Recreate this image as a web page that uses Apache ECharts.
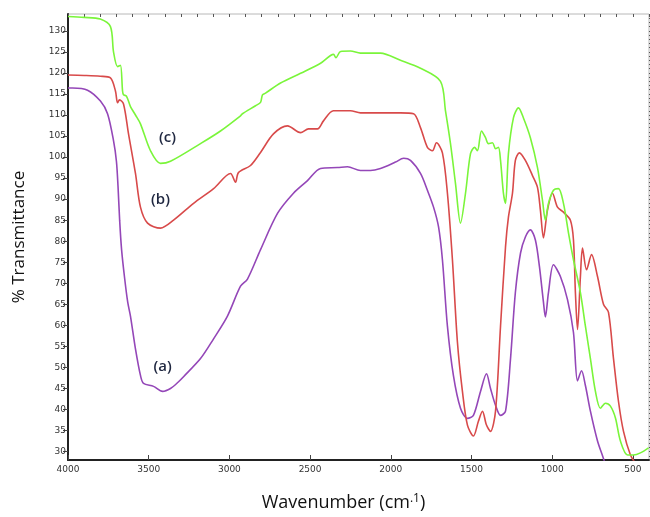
<!DOCTYPE html>
<html>
<head>
<meta charset="utf-8">
<script src="https://cdn.jsdelivr.net/npm/echarts@6/dist/echarts.min.js"></script>
<style>html,body{margin:0;padding:0;background:#fff;}#chart{width:650px;height:517px;}</style>
</head>
<body>
<div id="chart"></div>
<script>
// Wavenumber (cm-1) and % Transmittance
const wnC = [4000,3900,3800,3737,3718,3693,3675,3662,3656,3638,3613,3582,3551,3489,3427,3365,3179,3055,2931,2919,2838,2807,2795,2776,2683,2559,2435,2355,2340,2311,2250,2188,2064,1940,1816,1692,1661,1630,1599,1568,1537,1506,1481,1463,1438,1413,1395,1370,1351,1333,1320,1302,1289,1271,1240,1209,1178,1135,1091,1060,1042,1023,992,961,930,899,868,825,794,763,732,701,670,639,608,577,533,496,453,403];
const tC  = [133.4,133.2,132.8,131.0,125.0,121.5,121.8,115.7,114.8,114.5,112.0,110.0,107.9,101.5,98.5,99.0,103.2,106.2,109.8,110.3,112.2,113.0,114.8,115.2,117.6,119.9,122.3,124.4,123.6,125.1,125.2,124.7,124.7,123.0,121.1,118.0,111.0,103.2,93.7,84.3,91.4,100.8,102.3,101.5,106.2,104.6,103.2,103.4,102.0,102.3,99.2,91.4,89.0,100.8,109.3,111.7,109.3,104.6,97.5,89.7,85.0,89.0,92.1,92.5,89.0,82.0,75.6,67.8,59.8,52.1,44.3,40.3,41.5,40.8,38.0,32.5,29.2,29.2,29.7,30.9];

const wnB = [4000,3900,3800,3737,3706,3693,3681,3656,3625,3582,3551,3507,3427,3346,3222,3098,2993,2962,2944,2869,2807,2727,2640,2559,2510,2454,2417,2355,2250,2188,1940,1859,1816,1773,1742,1717,1680,1649,1618,1587,1556,1525,1488,1457,1432,1407,1382,1351,1320,1289,1271,1246,1228,1203,1166,1122,1091,1073,1054,1029,998,967,930,887,868,856,843,825,812,787,756,719,682,651,620,589,558,515,480];
const tB  = [119.5,119.4,119.2,118.8,115.7,112.9,113.6,112.6,105.5,96.1,88.1,84.3,83.1,85.0,89.0,92.5,96.1,94.0,96.3,98.0,101.1,105.5,107.4,105.8,106.7,106.7,108.6,111.0,111.0,110.5,110.5,110.3,107.0,102.3,101.5,103.4,101.0,91.4,75.6,56.0,44.3,36.3,33.7,37.2,39.6,36.3,34.8,39.6,59.8,78.7,85.7,91.4,99.2,101.0,99.2,95.6,92.8,87.4,80.8,87.4,91.4,88.1,86.9,85.0,80.3,67.8,59.0,71.6,78.4,73.2,76.8,71.6,65.0,63.1,52.1,41.9,34.8,29.2,27.0];

const wnA = [4000,3972,3879,3799,3755,3718,3700,3690,3680,3668,3650,3630,3613,3582,3551,3532,3470,3414,3365,3315,3284,3179,3098,3012,2931,2888,2807,2702,2603,2516,2435,2330,2268,2188,2126,2064,1971,1920,1878,1816,1773,1735,1704,1680,1649,1612,1568,1525,1488,1444,1407,1382,1351,1320,1289,1258,1228,1196,1166,1135,1104,1079,1054,1042,1023,992,949,905,868,843,818,794,763,719,688,670];
const tA  = [116.4,116.4,115.9,113.3,110.3,103.9,99.0,93.0,85.0,78.0,71.5,65.5,62.2,54.4,48.1,46.2,45.5,44.3,45.0,46.6,47.8,52.1,56.8,62.2,69.3,71.0,78.0,86.6,91.4,94.4,97.3,97.5,97.7,96.8,96.8,97.3,98.8,99.7,99.2,96.1,92.1,88.1,83.4,75.6,59.8,48.1,40.3,37.9,38.6,44.3,48.5,45.0,41.0,38.6,39.6,52.1,67.8,77.2,81.0,82.7,80.3,74.0,65.5,62.0,67.8,74.4,71.6,66.1,58.3,46.8,49.2,45.7,39.6,32.5,29.0,27.0];

const xTicks = [4000,3500,3000,2500,2000,1500,1000,500];
const yTicks = [30,35,40,45,50,55,60,65,70,75,80,85,90,95,100,105,110,115,120,125,130];
const seriesNames = ['(a)','(b)','(c)'];
// label anchors (wavenumber, %T)
const labelPos = [[3414,50.2],[3427,89.8],[3383,104.6]];

const zip = (xs, ys) => xs.map((x, i) => [x, ys[i]]);

const chart = echarts.init(document.getElementById('chart'), null, {renderer:'canvas'});
const colors = ['#9447b8','#d84a4a','#7af53a'];
const datasets = [zip(wnA,tA), zip(wnB,tB), zip(wnC,tC)];

const labelStyle = {color:'#1f2740', fontSize:15, fontWeight:600, fontFamily:'Open Sans'};

chart.setOption({
  animation:false,
  backgroundColor:'#fff',
  grid:{left:68, top:14, right:1, bottom:56, show:true, borderColor:'#b8b8b8', borderWidth:1},
  xAxis:[{
    type:'value', inverse:true, min:400, max:4000,
    name:'Wavenumber (cm{s|.1})', nameLocation:'middle', nameGap:33,
    nameTextStyle:{color:'#111', fontSize:18, fontFamily:'Open Sans', padding:[0,30,0,0],
      rich:{s:{fontSize:12, verticalAlign:'top', padding:[0,0,8,0], color:'#111', fontFamily:'Open Sans'}}},
    axisLine:{show:true, onZero:false, lineStyle:{color:'#222', width:2}},
    axisTick:{show:true, inside:true, length:5, customValues:xTicks, lineStyle:{color:'#444'}},
    axisLabel:{customValues:xTicks, formatter:v => String(v), color:'#333', fontSize:9, fontFamily:'DejaVu Sans', margin:5},
    splitLine:{show:false}
  },{
    type:'value', inverse:true, min:400, max:4000, interval:100,
    axisLine:{show:false}, axisLabel:{show:false},
    axisTick:{show:true, inside:true, length:3, lineStyle:{color:'#555'}},
    splitLine:{show:false}
  }],
  yAxis:[{
    type:'value', min:28, max:134,
    name:'% Transmittance', nameLocation:'middle', nameGap:40,
    nameTextStyle:{color:'#111', fontSize:17, fontFamily:'Open Sans'},
    axisLine:{show:true, onZero:false, lineStyle:{color:'#222', width:2}},
    axisTick:{show:true, length:5, customValues:yTicks, lineStyle:{color:'#444'}},
    axisLabel:{customValues:yTicks, formatter:v => String(v), color:'#333', fontSize:9, fontFamily:'DejaVu Sans', margin:2},
    splitLine:{show:false}
  },{
    type:'value', min:28, max:134, interval:1,
    axisLine:{show:false}, axisLabel:{show:false},
    axisTick:{show:true, length:3, lineStyle:{color:'#555'}},
    splitLine:{show:false}
  }],
  series: datasets.map((d, i) => ({
    type:'line', name:seriesNames[i], data:d, showSymbol:false, symbol:'none',
    smooth:0.3, clip:true, xAxisIndex:0, yAxisIndex:0,
    lineStyle:{color:colors[i], width:1.6},
    markPoint:{
      symbol:'circle', symbolSize:1, itemStyle:{color:'rgba(0,0,0,0)'},
      label:{show:true, position:'inside', formatter:seriesNames[i], ...labelStyle},
      data:[{coord:labelPos[i]}]
    }
  }))
});
</script>
</body>
</html>
